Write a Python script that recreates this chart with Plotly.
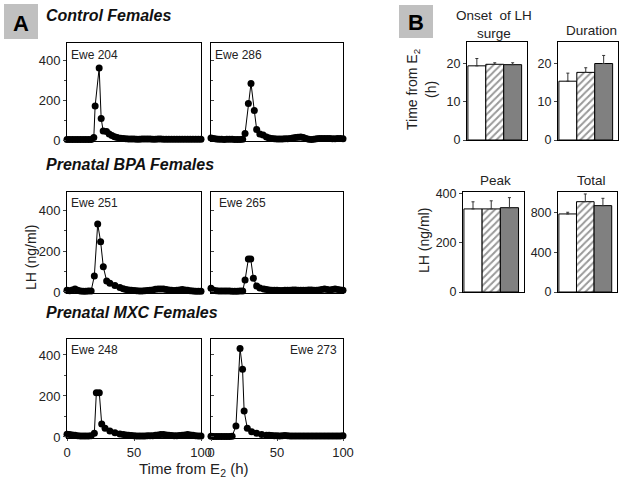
import plotly.graph_objects as go

W, H = 629, 481
FONT = "Liberation Sans, Arial, sans-serif"

# ---------------- Panel A data (hours from E2, LH ng/ml) ----------------
ewe204_h = [0, 2, 4, 6, 8, 10, 12, 14, 16, 18,
            20, 21, 24, 25.5, 27, 29.5, 31.5, 33.5, 35.5, 37.5,
            40, 42, 44, 46, 48, 50, 52, 54, 56, 58, 60, 62, 64, 66, 68, 70,
            72, 74, 76, 78, 80, 82, 84, 86, 88, 90, 92, 94, 96, 98, 100]
ewe204_lh = [3, 2, 2, 2, 2, 2, 2, 2, 2, 3,
             12, 170, 360, 108, 45, 42, 30, 22, 16, 12,
             9, 7, 6, 5, 5, 5, 4, 4, 5, 5, 5, 5, 4, 4, 5, 5,
             4, 4, 4, 4, 4, 4, 4, 4, 4, 4, 4, 4, 4, 4, 4]

ewe286_h = [0, 2, 4, 6, 8, 10, 12, 14, 16, 18, 20, 22, 24,
            25.8, 28.3, 30.3, 32.8, 34.6, 37, 39.5,
            42, 44, 46, 48, 50, 52, 54, 56, 58, 60, 62, 64, 66, 68, 70,
            72, 74, 76, 78, 80, 82, 84, 86, 88, 90, 92, 94, 96, 98, 100]
ewe286_lh = [10, 8, 5, 4, 4, 3, 4, 4, 4, 3, 3, 3, 4,
             33, 183, 283, 147, 53, 30, 25,
             15, 10, 8, 6, 5, 5, 5, 6, 6, 8, 10, 12, 14, 15, 12,
             8, 4, 3, 4, 6, 8, 8, 8, 7, 7, 6, 6, 7, 8, 6]

ewe251_h = [0, 2, 4, 6, 8, 10, 12, 14, 16, 18,
            20.4, 22.9, 25.1, 27.1, 29.6, 32, 35.8, 39.5,
            42, 44, 46, 48, 50, 52, 54, 56, 58, 60, 62, 64, 66, 68, 70,
            72, 74, 76, 78, 80, 82, 84, 86, 88, 90, 92, 94, 96, 98, 100]
ewe251_lh = [8, 6, 10, 15, 8, 5, 4, 4, 5, 5,
             78, 332, 245, 123, 54, 42, 32, 22,
             16, 12, 10, 8, 7, 6, 5, 5, 6, 7, 8, 10, 13, 15, 15,
             14, 12, 10, 8, 7, 8, 10, 12, 10, 8, 6, 5, 4, 4, 3]

ewe265_h = [0, 2, 4, 6, 8, 10, 12, 14, 16, 18, 20, 22, 24,
            25.8, 28.3, 30.1, 32.1, 34.6, 37, 40,
            42, 44, 46, 48, 50, 52, 54, 56, 58, 60, 62, 64, 66, 68, 70,
            72, 74, 76, 78, 80, 82, 84, 86, 88, 90, 92, 94, 96, 98, 100]
ewe265_lh = [18, 8, 6, 5, 5, 5, 5, 5, 4, 4, 4, 5, 5,
             58, 161, 161, 67, 29, 20, 15,
             12, 10, 9, 8, 8, 7, 7, 8, 8, 9, 10, 10, 9, 8, 8,
             9, 10, 10, 9, 8, 10, 12, 14, 12, 10, 12, 14, 12, 10, 8]

ewe248_h = [0, 2, 4, 6, 8, 10, 12, 14, 16, 18,
            20.4, 21.9, 24.1, 25.9, 28.4, 32, 35.8, 39.5,
            42, 44, 46, 48, 50, 52, 54, 56, 58, 60, 62, 64, 66, 68, 70,
            72, 74, 76, 78, 80, 82, 84, 86, 88, 90, 92, 94, 96, 98, 100]
ewe248_lh = [13, 12, 10, 8, 6, 5, 5, 5, 5, 6,
             18, 216, 216, 63, 42, 29, 21, 15,
             12, 10, 8, 7, 6, 5, 5, 5, 5, 6, 6, 6, 8, 10, 12,
             12, 10, 8, 7, 6, 6, 7, 8, 10, 12, 10, 8, 6, 5, 5]

ewe273_h = [0, 2, 4, 6, 8, 10, 12, 14, 16,
            18.9, 22, 23.9, 25.1, 27.5, 30.8, 34.6, 38.4,
            42, 44, 46, 48, 50, 52, 54, 56, 58, 60, 62, 64, 66, 68, 70,
            72, 74, 76, 78, 80, 82, 84, 86, 88, 90, 92, 94, 96, 98, 100]
ewe273_lh = [3, 2, 2, 2, 2, 2, 2, 2, 3,
             54, 432, 330, 127, 42, 26, 18, 12,
             9, 8, 7, 6, 6, 5, 6, 7, 6, 5, 5, 5, 5, 5, 5,
             5, 5, 5, 5, 5, 5, 5, 5, 5, 5, 5, 5, 5, 5, 6]

ewe_labels = ["Ewe 204", "Ewe 286", "Ewe 251", "Ewe 265", "Ewe 248", "Ewe 273"]
group_titles = ["Control Females", "Prenatal BPA Females", "Prenatal MXC Females"]
ts_yticks = [0, 200, 400]
ts_xticks = [0, 50, 100]

# ---------------- Panel B data (mean, upper SEM) ----------------
groups = ["Control", "BPA", "MXC"]
onset_mean = [19.3, 19.7, 19.6]
onset_sem = [1.9, 0.4, 0.5]
duration_mean = [15.3, 17.6, 19.9]
duration_sem = [2.1, 1.2, 2.1]
peak_mean = [339, 339, 344]
peak_sem = [29, 33, 41]
total_mean = [790, 914, 874]
total_sem = [17, 78, 74]
bar_titles = ["Onset  of LH<br>surge", "Duration", "Peak", "Total"]

# ---------------- helpers ----------------
def fx(px):
    return px / W

def fy(py):
    return 1 - py / H

fig = go.Figure()
layout = dict(width=W, height=H, margin=dict(l=0, r=0, t=0, b=0, autoexpand=False),
              paper_bgcolor="white", plot_bgcolor="white", showlegend=False,
              font=dict(family=FONT, color="#222", size=13))
annotations = []
shapes = []

def ann(x, y, text, size=13, xa="center", ya="middle", angle=0, bold=False, italic=False, color="#222"):
    if bold:
        text = "<b>" + text + "</b>"
    if italic:
        text = "<i>" + text + "</i>"
    annotations.append(dict(x=fx(x), y=fy(y), xref="paper", yref="paper", text=text,
                            showarrow=False, xanchor=xa, yanchor=ya, textangle=angle,
                            font=dict(family=FONT, size=size, color=color)))

# time-series panels
series = [(ewe204_h, ewe204_lh), (ewe286_h, ewe286_lh),
          (ewe251_h, ewe251_lh), (ewe265_h, ewe265_lh),
          (ewe248_h, ewe248_lh), (ewe273_h, ewe273_lh)]
col_x = [(67, 201), (211, 343)]
row_y = [(43, 141), (192, 293), (339, 438)]
row_ranges = [[-5, 485], [-5, 488], [-5, 478]]
label_y = [55, 203, 350]

for i, (hx, lh) in enumerate(series):
    r, c = divmod(i, 2)
    n = i + 1
    xa = "xaxis" if n == 1 else f"xaxis{n}"
    ya = "yaxis" if n == 1 else f"yaxis{n}"
    xs = "x" if n == 1 else f"x{n}"
    ys = "y" if n == 1 else f"y{n}"
    fig.add_trace(go.Scatter(x=hx, y=lh, mode="lines+markers", xaxis=xs, yaxis=ys,
                             line=dict(color="black", width=1),
                             marker=dict(color="black", size=7), cliponaxis=False))
    x0, x1 = col_x[c]
    y0, y1 = row_y[r]
    bottom = (r == 2)
    layout[xa] = dict(domain=[fx(x0), fx(x1)], anchor=ys, range=[0, 100], automargin=False,
                      showline=True, mirror=True, linecolor="black", linewidth=1,
                      showgrid=False, zeroline=False, tickvals=ts_xticks,
                      ticks="outside" if bottom else "", ticklen=2,
                      showticklabels=bottom, tickfont=dict(size=13, color="#222"))
    layout[ya] = dict(domain=[fy(y1), fy(y0)], anchor=xs, range=row_ranges[r], automargin=False,
                      showline=True, mirror=True, linecolor="black", linewidth=1,
                      showgrid=False, zeroline=False, tickvals=ts_yticks,
                      ticks="outside" if c == 0 else "inside", ticklen=3,
                      showticklabels=(c == 0), tickfont=dict(size=13, color="#222"),
                      minor=dict(tickvals=[100, 300], ticks="outside" if c == 0 else "inside",
                                 ticklen=2, tickcolor="#444"))
    if c == 0:
        ann(69, label_y[r], ewe_labels[i], size=12, xa="left")
    else:
        if i == 5:
            ann(339, label_y[r], ewe_labels[i], size=12, xa="right")
        elif i == 3:
            ann(217, label_y[r], ewe_labels[i], size=12, xa="left")
        else:
            ann(213, label_y[r], ewe_labels[i], size=12, xa="left")

# bar panels
bar_data = [(onset_mean, onset_sem, [0, 25.5], [0, 10, 20]),
            (duration_mean, duration_sem, [0, 25.5], [0, 10, 20]),
            (peak_mean, peak_sem, [0, 408], [0, 200, 400]),
            (total_mean, total_sem, [0, 1012], [0, 400, 800])]
bar_boxes = [(467, 527, 42, 140), (558, 618, 42, 140), (463, 524, 192, 292), (558, 617, 192, 292)]
fills = ["white", "white", "#808080"]
patterns = ["", "/", ""]
xpos = [0, 1, 2]

for j, (mean, sem, yr, tv) in enumerate(bar_data):
    n = 7 + j
    xs, ys = f"x{n}", f"y{n}"
    for k in range(3):
        fig.add_trace(go.Bar(x=[xpos[k]], y=[mean[k]], width=1, xaxis=xs, yaxis=ys,
                             marker=dict(color=fills[k], line=dict(color="black", width=1),
                                         pattern=dict(shape=patterns[k], fgcolor="#333",
                                                      bgcolor="white", size=5, solidity=0.4)),
                             error_y=dict(type="data", symmetric=False, array=[sem[k]],
                                          arrayminus=[0], color="#333", thickness=1, width=1.5)))
    x0, x1, y0, y1 = bar_boxes[j]
    layout[f"xaxis{n}"] = dict(domain=[fx(x0), fx(x1)], anchor=ys, range=[-0.55, 2.8], automargin=False,
                               showline=True, mirror=True, linecolor="black", linewidth=1,
                               showgrid=False, zeroline=False, showticklabels=False, ticks="")
    layout[f"yaxis{n}"] = dict(domain=[fy(y1), fy(y0)], anchor=xs, range=yr, automargin=False,
                               showline=True, mirror=True, linecolor="black", linewidth=1,
                               showgrid=False, zeroline=False, tickvals=tv,
                               ticks="outside", ticklen=3, tickfont=dict(size=12.5, color="#222"))

layout["barmode"] = "overlay"

# panel letter boxes
shapes.append(dict(type="rect", xref="paper", yref="paper", x0=fx(4), x1=fx(38), y0=fy(39), y1=fy(4),
                   fillcolor="#c0c0c0", line=dict(width=0), layer="below"))
shapes.append(dict(type="rect", xref="paper", yref="paper", x0=fx(399), x1=fx(433), y0=fy(38), y1=fy(5),
                   fillcolor="#c0c0c0", line=dict(width=0), layer="below"))
ann(21, 23, "A", size=22, bold=True, color="black")
ann(416, 22, "B", size=22, bold=True, color="black")

# group titles
ann(44, 15, group_titles[0], size=16, xa="left", bold=True, italic=True, color="#111")
ann(44, 165, group_titles[1], size=16, xa="left", bold=True, italic=True, color="#111")
ann(44, 312, group_titles[2], size=16, xa="left", bold=True, italic=True, color="#111")

# axis titles panel A
ann(31, 258, "LH (ng/ml)", size=14, angle=-90)
ann(193, 469, "Time from E<sub>2</sub> (h)", size=15)

# panel B titles
ann(494, 24, bar_titles[0], size=13.5)
ann(591, 30, bar_titles[1], size=13.5)
ann(495, 180, bar_titles[2], size=13.5)
ann(591, 180, bar_titles[3], size=13.5)
ann(413, 90, "Time from E<sub>2</sub>", size=14, angle=-90)
ann(431, 90, "(h)", size=14, angle=-90)
ann(424, 241, "LH (ng/ml)", size=14, angle=-90)

layout["annotations"] = annotations
layout["shapes"] = shapes
fig.update_layout(**layout)
fig.write_html("out.html", config={"displayModeBar": False},
               post_script="document.body.style.margin='0';document.body.style.overflow='hidden';")
